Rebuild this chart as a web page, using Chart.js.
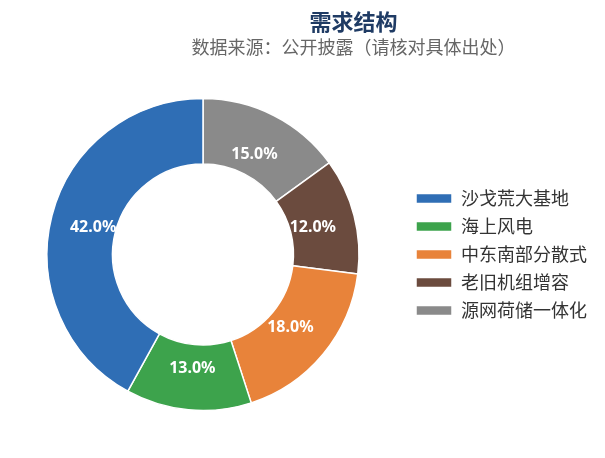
<!DOCTYPE html>
<html>
<head>
<meta charset="utf-8">
<script src="https://cdn.jsdelivr.net/npm/chart.js@4/dist/chart.umd.min.js"></script>
<style>
  html, body { margin: 0; padding: 0; background: #fff; }
  #wrap { width: 605px; height: 458px; }
</style>
</head>
<body>
<div id="wrap"><canvas id="myChart" width="605" height="458"></canvas></div>
<script>
var categories = ['沙戈荒大基地', '海上风电', '中东南部分散式', '老旧机组增容', '源网荷储一体化'];
var shares = [42, 13, 18, 12, 15];
var colors = ['#2F6EB5', '#3DA34C', '#E8833A', '#6B4B3E', '#8A8A8A'];

// slices run counter-clockwise in the picture, so feed them reversed
var labelsRev = categories.slice().reverse();
var sharesRev = shares.slice().reverse();
var colorsRev = colors.slice().reverse();

var cjk = '"Noto Sans CJK SC", "Noto Sans", sans-serif';

// shift the title/subtitle block to the right, like the picture
var shiftTitle = {
    id: 'shiftTitle',
    afterLayout: function(chart) {
        chart.boxes.forEach(function(b) {
            if (b.position === 'top' && b.options && b.options.text !== undefined) {
                b.left += 55;
                b.right += 55;
            }
        });
    }
};

var sliceLabels = {
    id: 'sliceLabels',
    afterDatasetsDraw: function(chart) {
        var ctx = chart.ctx;
        var meta = chart.getDatasetMeta(0);
        ctx.save();
        ctx.fillStyle = '#ffffff';
        ctx.font = 'bold 16px "Noto Sans", sans-serif';
        ctx.textAlign = 'center';
        ctx.textBaseline = 'middle';
        meta.data.forEach(function(arc, i) {
            var p = arc.getProps(['x', 'y', 'startAngle', 'endAngle', 'innerRadius', 'outerRadius']);
            var mid = (p.startAngle + p.endAngle) / 2;
            var r = p.innerRadius + (p.outerRadius - p.innerRadius) * 0.35;
            ctx.fillText(sharesRev[i].toFixed(1) + '%', p.x + Math.cos(mid) * r, p.y + Math.sin(mid) * r + 1);
        });
        ctx.restore();
    }
};

function load(){
    var ctx = document.getElementById('myChart').getContext('2d');
    var myChart = new Chart(ctx, {
        type: 'doughnut',
        data: {
            labels: labelsRev,
            datasets: [{
                data: sharesRev,
                backgroundColor: colorsRev,
                borderColor: '#ffffff',
                borderWidth: 1.5
            }]
        },
        options: {
            responsive: false,
            animation: false,
            radius: 156,
            cutout: '58%',
            layout: { padding: { top: 4, right: 8, bottom: 17, left: 0 } },
            plugins: {
                title: {
                    display: true,
                    text: '需求结构',
                    color: '#1F3B64',
                    font: { family: cjk, size: 22, weight: 'bold' },
                    padding: { top: 4, bottom: 0 }
                },
                subtitle: {
                    display: true,
                    text: '数据来源：公开披露（请核对具体出处）',
                    color: '#666666',
                    font: { family: cjk, size: 18 },
                    padding: { top: 2, bottom: 10 }
                },
                legend: {
                    position: 'right',
                    fullSize: false,
                    reverse: true,
                    labels: {
                        boxWidth: 36,
                        boxHeight: 10,
                        padding: 10,
                        color: '#333333',
                        font: { family: cjk, size: 18 }
                    }
                },
                tooltip: { enabled: false }
            }
        },
        plugins: [shiftTitle, sliceLabels]
    });
}

window.onload = load();
</script>
</body>
</html>
